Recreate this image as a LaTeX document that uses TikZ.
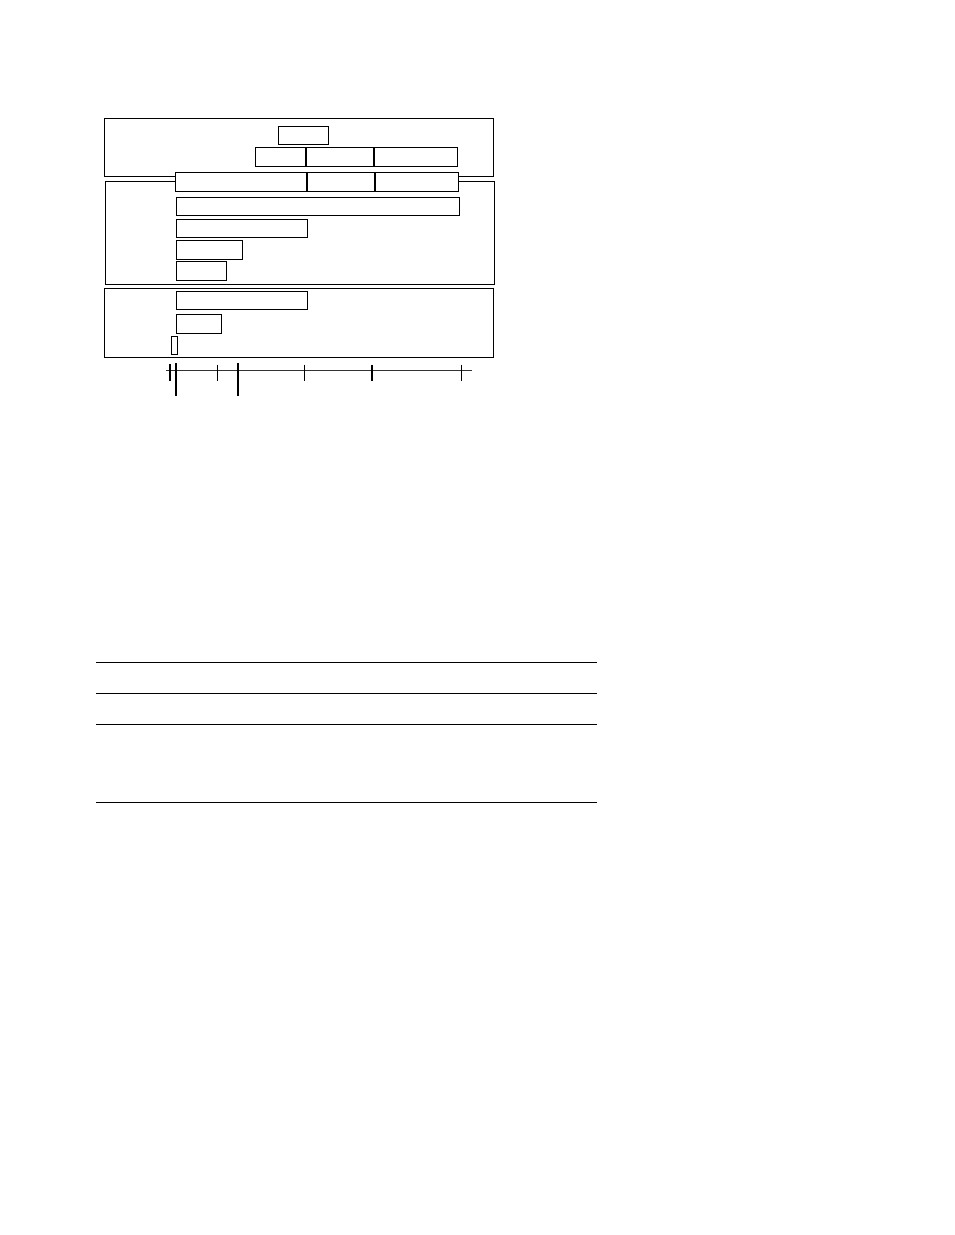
\documentclass[tikz,border=0pt]{standalone}
\begin{document}
\begin{tikzpicture}[x=1pt,y=-1pt,
  box/.style={draw=black,line width=1pt,fill=white,rectangle,inner sep=0pt,outer sep=0pt,anchor=north west},
  frame/.style={draw=black,line width=1pt,rectangle,inner sep=0pt,outer sep=0pt,anchor=north west},
  axisline/.style={draw=black!80,line width=1pt},
  thintick/.style={draw=black,line width=0.8pt},
  thicktick/.style={draw=black,line width=2pt},
  rule/.style={draw=black,line width=1pt}]
\useasboundingbox (0,0) rectangle (954,1235);
% outer frames
\node[frame,minimum width=389.4pt,minimum height=58pt] (o1) at (104.3,118.3) {};
\node[frame,minimum width=389.4pt,minimum height=103.3pt] (o2) at (105.3,181) {};
\node[frame,minimum width=389.4pt,minimum height=69.4pt] (o3) at (104.3,288.3) {};
% top part
\node[box,minimum width=50.4pt,minimum height=18pt] (t) at (278.3,126.3) {};
\node[box,minimum width=50.4pt,minimum height=19pt] (r2a) at (255.3,147.3) {};
\node[box,minimum width=66.3pt,minimum height=19pt] (r2b) at (306.7,147.3) {};
\node[box,minimum width=83.7pt,minimum height=19pt] (r2c) at (374,147.3) {};
\node[box,minimum width=131.4pt,minimum height=19pt] (r3a) at (175.3,172.3) {};
\node[box,minimum width=66.3pt,minimum height=19pt] (r3b) at (307.7,172.3) {};
\node[box,minimum width=83.7pt,minimum height=19pt] (r3c) at (375,172.3) {};
% middle bars
\node[box,minimum width=283.4pt,minimum height=18.4pt] (b1) at (176.3,197.3) {};
\node[box,minimum width=131.4pt,minimum height=18pt] (b2) at (176.3,219.3) {};
\node[box,minimum width=66.4pt,minimum height=18.7pt] (b3) at (176.3,240.3) {};
\node[box,minimum width=50.4pt,minimum height=19pt] (b4) at (176.3,261.3) {};
% lower bars
\node[box,minimum width=131.4pt,minimum height=18pt] (c1) at (176.3,291.3) {};
\node[box,minimum width=45.4pt,minimum height=19pt] (c2) at (176.3,314.3) {};
\node[box,minimum width=6.4pt,minimum height=18.4pt] (c3) at (171.3,336.3) {};
% axis
\coordinate (ax0) at (166,370);
\coordinate (ax1) at (471.7,370);
\draw[axisline] (ax0) -- (ax1);
\coordinate (k1a) at (170,364); \coordinate (k1b) at (170,380.7);
\coordinate (k2a) at (176,363.3); \coordinate (k2b) at (176,395.7);
\coordinate (k3a) at (217.3,364.7); \coordinate (k3b) at (217.3,380.7);
\coordinate (k4a) at (238,363.3); \coordinate (k4b) at (238,395.7);
\coordinate (k5a) at (304.3,364.7); \coordinate (k5b) at (304.3,380.7);
\coordinate (k6a) at (372,364.7); \coordinate (k6b) at (372,380.7);
\coordinate (k7a) at (461.3,364.7); \coordinate (k7b) at (461.3,380.7);
\draw[thicktick] (k1a) -- (k1b);
\draw[thicktick] (k2a) -- (k2b);
\draw[thintick] (k3a) -- (k3b);
\draw[thicktick] (k4a) -- (k4b);
\draw[thintick] (k5a) -- (k5b);
\draw[thicktick] (k6a) -- (k6b);
\draw[thintick] (k7a) -- (k7b);
% table rules
\coordinate (l1a) at (96,662.3); \coordinate (l1b) at (597,662.3);
\coordinate (l2a) at (96,693.3); \coordinate (l2b) at (597,693.3);
\coordinate (l3a) at (96,724.3); \coordinate (l3b) at (597,724.3);
\coordinate (l4a) at (96,802.3); \coordinate (l4b) at (597,802.3);
\draw[rule] (l1a) -- (l1b);
\draw[rule] (l2a) -- (l2b);
\draw[rule] (l3a) -- (l3b);
\draw[rule] (l4a) -- (l4b);
\end{tikzpicture}
\end{document}
